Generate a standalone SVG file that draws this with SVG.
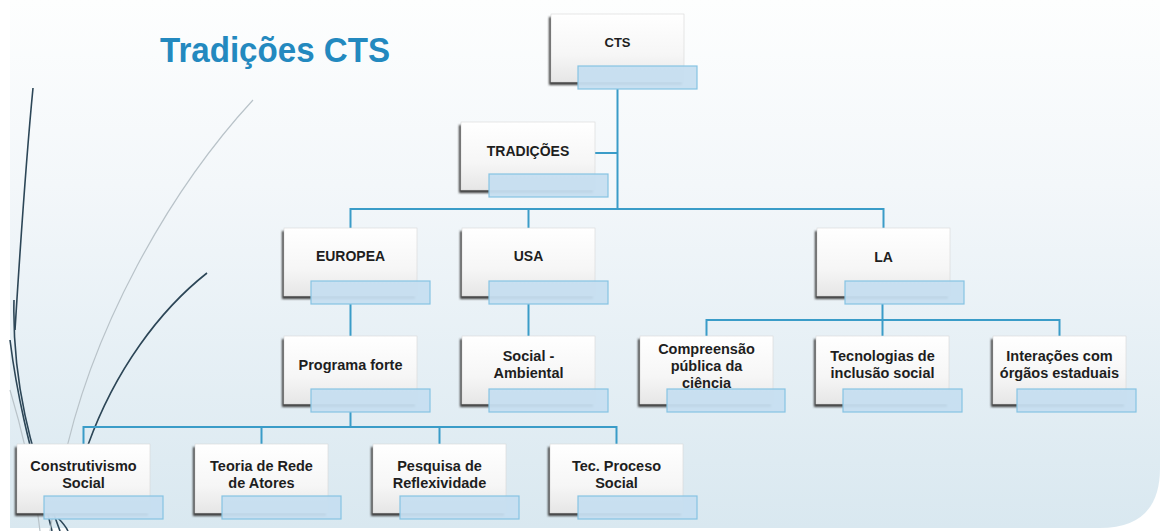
<svg xmlns="http://www.w3.org/2000/svg" width="1160" height="531" viewBox="0 0 1160 531">
  <defs>
    <linearGradient id="panelGrad" x1="0" y1="0" x2="0" y2="1">
      <stop offset="0" stop-color="#fdfefe"/>
      <stop offset="0.35" stop-color="#f3f7fa"/>
      <stop offset="1" stop-color="#d9e8f0"/>
    </linearGradient>
    <linearGradient id="boxGrad" x1="0" y1="0" x2="0" y2="1">
      <stop offset="0" stop-color="#ffffff"/>
      <stop offset="0.6" stop-color="#f6f6f6"/>
      <stop offset="1" stop-color="#e6e6e6"/>
    </linearGradient>
    <filter id="soft" x="-10%" y="-10%" width="120%" height="130%">
      <feGaussianBlur stdDeviation="1.2"/>
    </filter>
    <style>
      .shadow { fill: #3c3c3c; filter: url(#soft); }
      .box { fill: url(#boxGrad); stroke: #d8d8d8; stroke-width: 0.6; }
      .tag { fill: #c6def0; fill-opacity: 0.95; stroke: #86c3e3; stroke-width: 1.2; }
      .lbl { font-family: "Liberation Sans", Arial, sans-serif; font-weight: bold; font-size: 14.5px; fill: #1e1e1e; text-anchor: middle; }
      .cap { font-size: 14px; }
      .small { font-size: 13px; }
      .link { fill: none; stroke: #3a9cc8; stroke-width: 2; }
      .deco-dark { fill: none; stroke: #2c4657; stroke-width: 1.6; }
      .deco-light { fill: none; stroke: #b9c3c9; stroke-width: 1.2; }
    </style>
  </defs>

  <!-- page background -->
  <rect x="0" y="0" width="1160" height="531" fill="#ffffff"/>
  <path d="M10 0 H1160 V468 Q1160 528 1100 528 H10 Z" fill="url(#panelGrad)"/>

  <!-- decorative swooshes on the left -->
  <g id="decoration">
    <path class="deco-dark" d="M33 88 C26 160 20 250 15 330"/>
    <path class="deco-dark" d="M14 300 C12 380 30 450 60 531"/>
    <path class="deco-dark" stroke-width="1.2" d="M10 340 C20 420 40 480 52 531"/>
    <path class="deco-light" d="M253 100 C170 190 90 330 62 470 C55 500 52 520 50 531"/>
    <path class="deco-light" d="M10 390 C25 440 35 490 40 531"/>
    <path class="deco-dark" stroke="#3d5a6c" stroke-width="1.4" d="M207 273 C160 310 115 370 88 445"/>
    <path class="deco-dark" stroke="#3d5a6c" stroke-width="1.4" d="M58 518 C62 522 66 527 68 531"/>
  </g>

  <!-- title -->
  <text x="160" y="62" textLength="230" lengthAdjust="spacingAndGlyphs" font-family="Liberation Sans, Arial, sans-serif" font-weight="bold" font-size="35" fill="#2389bf">Tradições CTS</text>

  <!-- connectors -->
  <g id="connectors">
    <path class="link" d="M617.5 89 V209"/>
    <path class="link" d="M595 153 H617.5"/>
    <path class="link" d="M350.5 228 V209 H883.5 V228"/>
    <path class="link" d="M528.5 209 V228"/>
    <path class="link" d="M350.5 304 V336"/>
    <path class="link" d="M528.5 304 V336"/>
    <path class="link" d="M882.5 304 V320"/>
    <path class="link" d="M706.5 336 V320 H1059.5 V336"/>
    <path class="link" d="M882.5 320 V336"/>
    <path class="link" d="M350.5 412 V427"/>
    <path class="link" d="M83.5 444 V427 H616.5 V444"/>
    <path class="link" d="M261.5 427 V444"/>
    <path class="link" d="M439.5 427 V444"/>
  </g>

  <g id="node-cts">
    <rect class="shadow" x="549" y="17" width="133" height="68"/>
    <rect class="box" x="551" y="14" width="133" height="68"/>
    <text class="lbl small" x="617.5" y="47">CTS</text>
    <rect class="tag" x="578" y="66" width="119" height="23"/>
  </g>

  <g id="node-tradicoes">
    <rect class="shadow" x="459" y="125" width="134" height="68"/>
    <rect class="box" x="461" y="122" width="134" height="68"/>
    <text class="lbl cap" x="528" y="156">TRADIÇÕES</text>
    <rect class="tag" x="489" y="174" width="119" height="23"/>
  </g>

  <g id="node-europea">
    <rect class="shadow" x="282" y="231" width="133" height="68"/>
    <rect class="box" x="284" y="228" width="133" height="68"/>
    <text class="lbl cap" x="350.5" y="261">EUROPEA</text>
    <rect class="tag" x="311" y="281" width="119" height="23"/>
  </g>

  <g id="node-usa">
    <rect class="shadow" x="460" y="231" width="133" height="68"/>
    <rect class="box" x="462" y="228" width="133" height="68"/>
    <text class="lbl cap" x="528.5" y="261">USA</text>
    <rect class="tag" x="489" y="281" width="119" height="23"/>
  </g>

  <g id="node-la">
    <rect class="shadow" x="815" y="231" width="133" height="68"/>
    <rect class="box" x="817" y="228" width="133" height="68"/>
    <text class="lbl cap" x="883.5" y="262">LA</text>
    <rect class="tag" x="845" y="281" width="119" height="23"/>
  </g>

  <g id="node-programa-forte">
    <rect class="shadow" x="282" y="339" width="133" height="68"/>
    <rect class="box" x="284" y="336" width="133" height="68"/>
    <text class="lbl" x="350.5" y="370">Programa forte</text>
    <rect class="tag" x="311" y="389" width="119" height="23"/>
  </g>

  <g id="node-social-ambiental">
    <rect class="shadow" x="460" y="339" width="133" height="68"/>
    <rect class="box" x="462" y="336" width="133" height="68"/>
    <text class="lbl" x="528.5" y="361">Social -</text>
    <text class="lbl" x="528.5" y="378">Ambiental</text>
    <rect class="tag" x="489" y="389" width="119" height="23"/>
  </g>

  <g id="node-compreensao">
    <rect class="shadow" x="638" y="339" width="133" height="68"/>
    <rect class="box" x="640" y="336" width="133" height="68"/>
    <text class="lbl" x="706.5" y="354">Compreensão</text>
    <text class="lbl" x="706.5" y="371">pública da</text>
    <text class="lbl" x="706.5" y="388">ciência</text>
    <rect class="tag" x="667" y="389" width="118" height="23"/>
  </g>

  <g id="node-tecnologias">
    <rect class="shadow" x="814" y="339" width="133" height="68"/>
    <rect class="box" x="816" y="336" width="133" height="68"/>
    <text class="lbl" x="882.5" y="361">Tecnologias de</text>
    <text class="lbl" x="882.5" y="378">inclusão social</text>
    <rect class="tag" x="843" y="389" width="119" height="23"/>
  </g>

  <g id="node-interacoes">
    <rect class="shadow" x="991" y="339" width="133" height="68"/>
    <rect class="box" x="993" y="336" width="133" height="68"/>
    <text class="lbl" x="1059.5" y="361">Interações com</text>
    <text class="lbl" x="1059.5" y="378">órgãos estaduais</text>
    <rect class="tag" x="1017" y="389" width="119" height="23"/>
  </g>

  <g id="node-construtivismo">
    <rect class="shadow" x="15" y="447" width="133" height="69"/>
    <rect class="box" x="17" y="444" width="133" height="69"/>
    <text class="lbl" x="83.5" y="471">Construtivismo</text>
    <text class="lbl" x="83.5" y="488">Social</text>
    <rect class="tag" x="44" y="496" width="119" height="23"/>
  </g>

  <g id="node-teoria-rede">
    <rect class="shadow" x="193" y="447" width="133" height="69"/>
    <rect class="box" x="195" y="444" width="133" height="69"/>
    <text class="lbl" x="261.5" y="471">Teoria de Rede</text>
    <text class="lbl" x="261.5" y="488">de Atores</text>
    <rect class="tag" x="222" y="496" width="119" height="23"/>
  </g>

  <g id="node-pesquisa">
    <rect class="shadow" x="371" y="447" width="133" height="69"/>
    <rect class="box" x="373" y="444" width="133" height="69"/>
    <text class="lbl" x="439.5" y="471">Pesquisa de</text>
    <text class="lbl" x="439.5" y="488">Reflexividade</text>
    <rect class="tag" x="400" y="496" width="119" height="23"/>
  </g>

  <g id="node-tec-proceso">
    <rect class="shadow" x="548" y="447" width="133" height="69"/>
    <rect class="box" x="550" y="444" width="133" height="69"/>
    <text class="lbl" x="616.5" y="471">Tec. Proceso</text>
    <text class="lbl" x="616.5" y="488">Social</text>
    <rect class="tag" x="578" y="496" width="119" height="23"/>
  </g>
</svg>
